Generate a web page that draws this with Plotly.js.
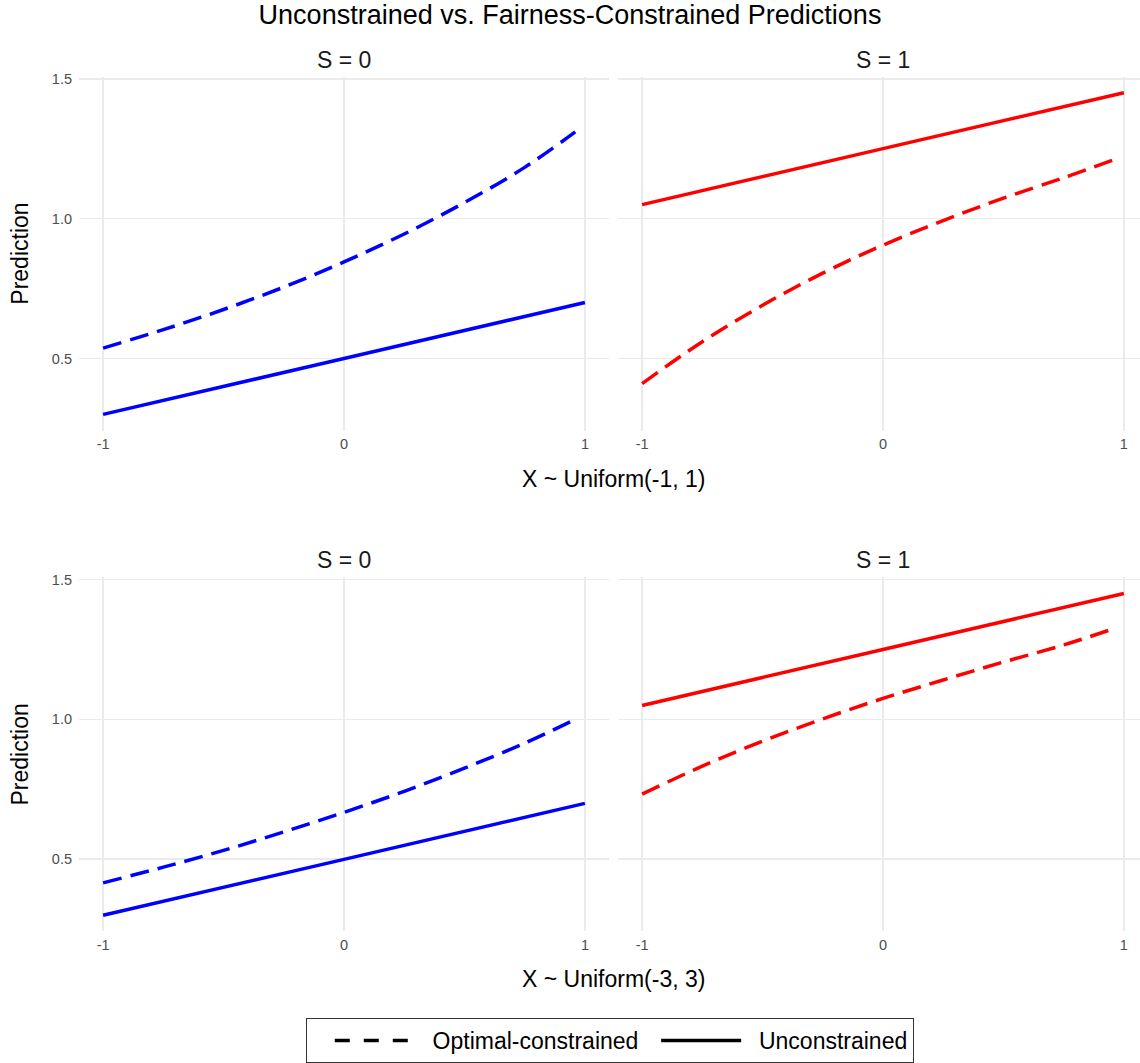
<!DOCTYPE html>
<html>
<head>
<meta charset="utf-8">
<script src="https://cdn.plot.ly/plotly-3.0.1.min.js"></script>
<style>
  html, body { margin: 0; padding: 0; background: #fff; }
  #chart { width: 1140px; height: 1063px; }
</style>
</head>
<body>
<div id="chart"></div>
<script>
// x positions of the plotted predictions
const xUnconstrained = [-1, 0, 1];
const xConstrained = [-1, -0.75, -0.5, -0.25, 0, 0.25, 0.5, 0.75, 0.96];

// X ~ Uniform(-1, 1)
const uncS0_a = [0.30, 0.50, 0.70];
const uncS1_a = [1.05, 1.25, 1.45];
const optS0_a = [0.537, 0.603, 0.675, 0.755, 0.845, 0.945, 1.057, 1.183, 1.31];
const optS1_a = [0.41, 0.56, 0.69, 0.805, 0.905, 0.993, 1.073, 1.146, 1.211];

// X ~ Uniform(-3, 3)
const uncS0_b = [0.30, 0.50, 0.70];
const uncS1_b = [1.05, 1.25, 1.45];
const optS0_b = [0.416, 0.472, 0.532, 0.598, 0.668, 0.743, 0.826, 0.915, 1.0];
const optS1_b = [0.733, 0.833, 0.922, 1.002, 1.075, 1.141, 1.205, 1.266, 1.325];

const xTicks = [-1, 0, 1];
const yTicks = [0.5, 1.0, 1.5];
const stripLabels = ['S = 0', 'S = 1'];
const rowTitles = ['X ~ Uniform(-1, 1)', 'X ~ Uniform(-3, 3)'];
const seriesNames = ['Optimal-constrained', 'Unconstrained'];
const chartTitle = 'Unconstrained vs. Fairness-Constrained Predictions';

const W = 1140, H = 1063;
const FONT = 'Liberation Sans, Arial, Helvetica, sans-serif';
const BLUE = '#0000FF', RED = '#FF0000';
const DASH = '19px,9px';
const LW = 3.5;
const GRID = '#EBEBEB';

// pixel helpers for paper coordinates
const px = v => v / W;
const py = v => 1 - v / H;

function line(x, y, xa, ya, color, dashed) {
  return {
    type: 'scatter', mode: 'lines', x: x, y: y,
    xaxis: xa, yaxis: ya, showlegend: false, hoverinfo: 'skip',
    line: { color: color, width: LW, dash: dashed ? DASH : 'solid', shape: 'spline', smoothing: 1 }
  };
}

// spacing around legend labels
const NB = '&nbsp;&nbsp;';
const traces = [
  line(xConstrained, optS0_a, 'x', 'y', BLUE, true),
  line(xUnconstrained, uncS0_a, 'x', 'y', BLUE, false),
  line(xConstrained, optS1_a, 'x2', 'y2', RED, true),
  line(xUnconstrained, uncS1_a, 'x2', 'y2', RED, false),
  line(xConstrained, optS0_b, 'x3', 'y3', BLUE, true),
  line(xUnconstrained, uncS0_b, 'x3', 'y3', BLUE, false),
  line(xConstrained, optS1_b, 'x4', 'y4', RED, true),
  line(xUnconstrained, uncS1_b, 'x4', 'y4', RED, false),
  // legend keys (linetype only)
  { type: 'scatter', mode: 'lines', x: [null], y: [null], xaxis: 'x', yaxis: 'y',
    name: NB + seriesNames[0] + NB, line: { color: '#000', width: LW, dash: '15px,14px' } },
  { type: 'scatter', mode: 'lines', x: [null], y: [null], xaxis: 'x', yaxis: 'y',
    name: NB + seriesNames[1], line: { color: '#000', width: LW } }
];

// panel geometry (pixels)
const colL = [79, 609], colR = [618, 1140];
const rowTop = [76.6, 430.5], rowBot = [577.4, 931.4];
const yRange = [0.2425, 1.5075];

function xAxis(dom, range, anchor) {
  return {
    domain: [px(dom[0]), px(dom[1])], range: range, anchor: anchor,
    tickmode: 'array', tickvals: xTicks, ticktext: xTicks.map(String),
    showgrid: true, gridcolor: GRID, gridwidth: 1.7,
    zeroline: false, showline: false, ticks: '', ticklabelstandoff: 3,
    tickfont: { family: FONT, size: 14.5, color: '#4D4D4D' }, fixedrange: true
  };
}
function yAxis(dom, anchor, labels, title) {
  const a = {
    domain: [py(dom[1]), py(dom[0])], range: yRange, anchor: anchor,
    tickmode: 'array', tickvals: yTicks, ticktext: yTicks.map(v => v.toFixed(1)),
    showticklabels: labels,
    showgrid: true, gridcolor: GRID, gridwidth: 1.7,
    zeroline: false, showline: false, ticks: '', ticklabelstandoff: 6,
    tickfont: { family: FONT, size: 14.5, color: '#4D4D4D' }, fixedrange: true
  };
  if (title) a.title = { text: title, font: { family: FONT, size: 23, color: '#000' }, standoff: 16 };
  return a;
}

const annotations = [];
[[colL, rowTop, 0], [colR, rowTop, 1], [colL, rowBot, 0], [colR, rowBot, 1]].forEach(([c, r, s]) => {
  const cx = (c[0] + c[0] + 530) / 2;
  annotations.push({
    xref: 'paper', yref: 'paper', x: px(cx), y: py(r[0] - 17), xanchor: 'center', yanchor: 'middle',
    text: stripLabels[s], showarrow: false, font: { family: FONT, size: 23, color: '#1A1A1A' }
  });
});
[rowTop, rowBot].forEach((r, i) => {
  annotations.push({
    xref: 'paper', yref: 'paper', x: px(613), y: py(r[1] + 48), xanchor: 'center', yanchor: 'middle',
    text: rowTitles[i], showarrow: false, font: { family: FONT, size: 23, color: '#000' }
  });
});

const layout = {
  width: W, height: H,
  margin: { l: 0, r: 0, t: 0, b: 0 },
  paper_bgcolor: '#fff', plot_bgcolor: '#fff',
  font: { family: FONT, color: '#000' },
  title: { text: chartTitle, x: px(570), xanchor: 'center', xref: 'paper',
           y: 1 - 15 / H, yref: 'container', yanchor: 'middle',
           font: { family: FONT, size: 27, color: '#000' } },
  xaxis: xAxis(colL, [-1.1, 1.1], 'y'),
  yaxis: yAxis(rowTop, 'x', true, 'Prediction'),
  xaxis2: xAxis(colR, [-1.1, 1.067], 'y2'),
  yaxis2: yAxis(rowTop, 'x2', false),
  xaxis3: xAxis(colL, [-1.1, 1.1], 'y3'),
  yaxis3: yAxis(rowBot, 'x3', true, 'Prediction'),
  xaxis4: xAxis(colR, [-1.1, 1.067], 'y4'),
  yaxis4: yAxis(rowBot, 'x4', false),
  annotations: annotations,
  showlegend: true,
  legend: {
    orientation: 'h', x: px(610), xanchor: 'center', y: py(1018), yanchor: 'top',
    bordercolor: '#333', borderwidth: 1, bgcolor: '#fff',
    font: { family: FONT, size: 23, color: '#000' }, itemwidth: 80, traceorder: 'normal',
    title: { text: '&nbsp;&nbsp;', side: 'left', font: { family: FONT, size: 23 } }
  }
};

Plotly.newPlot('chart', traces, layout, { staticPlot: true, displayModeBar: false });
</script>
</body>
</html>
